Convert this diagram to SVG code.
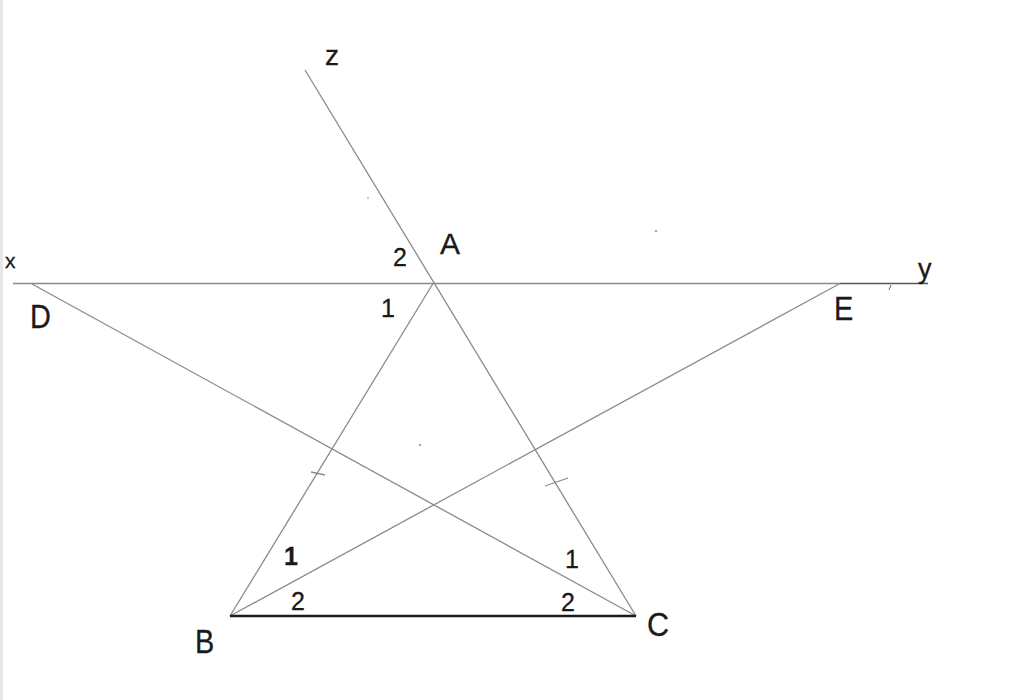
<svg xmlns="http://www.w3.org/2000/svg" width="1024" height="700" viewBox="0 0 1024 700">
<style>
.ln{stroke:#8a8a8a;stroke-width:1.3;fill:none}
.dk{stroke:#1a1a1a;stroke-width:2.5;fill:none}
.t{font-family:"Liberation Sans",Arial,sans-serif;fill:#1a1a1a;stroke:#1a1a1a;stroke-width:0.3}
.L{font-size:34px}
.n{font-size:25px}
</style>
<rect width="1024" height="700" fill="#fff"/>
<rect x="0" y="0" width="3" height="700" fill="#e6e6e6"/>
<g id="connectors">
<line class="ln" x1="13" y1="283.5" x2="840" y2="283.5"/>
<line x1="840" y1="283.5" x2="928" y2="283.5" stroke="#555" stroke-width="1.6"/>
<line class="ln" x1="305" y1="70" x2="636" y2="616"/>
<line class="ln" x1="433" y1="283.5" x2="230" y2="616"/>
<line class="ln" x1="32" y1="284" x2="636" y2="616"/>
<line class="ln" x1="230" y1="616" x2="840" y2="283.5"/>
<line class="dk" x1="230" y1="616" x2="636" y2="616"/>
<line class="ln" x1="311" y1="472" x2="325" y2="475"/>
<line class="ln" x1="545" y1="486" x2="568" y2="478"/>
<line x1="891" y1="285" x2="889" y2="290" stroke="#666" stroke-width="1"/>
<circle cx="368" cy="198" r="1" fill="#bbb"/>
<circle cx="656" cy="231" r="1.2" fill="#aaa"/>
<circle cx="420" cy="445" r="1.2" fill="#aaa"/>
</g>
<g id="x"><text class="t" x="5" y="268" font-size="21">x</text></g>
<g id="y"><text class="t" x="918" y="278" font-size="27">y</text></g>
<g id="z"><text class="t" x="325" y="65" font-size="28">z</text></g>
<g id="A"><text class="t" x="440" y="254" font-size="30">A</text><text class="t n" x="393" y="266">2</text><text class="t n" x="381" y="317">1</text></g>
<g id="D"><text class="t L" transform="translate(30,328) scale(0.85,1)">D</text></g>
<g id="E"><text class="t L" transform="translate(834,320) scale(0.85,1)">E</text></g>
<g id="B"><text class="t L" transform="translate(195,653) scale(0.85,1)">B</text><text class="t n" x="284" y="565" font-weight="bold">1</text><text class="t n" x="291" y="610">2</text></g>
<g id="C"><text class="t L" transform="translate(647,636) scale(0.9,1)">C</text><text class="t n" x="565" y="568">1</text><text class="t n" x="561" y="611">2</text></g>
</svg>
